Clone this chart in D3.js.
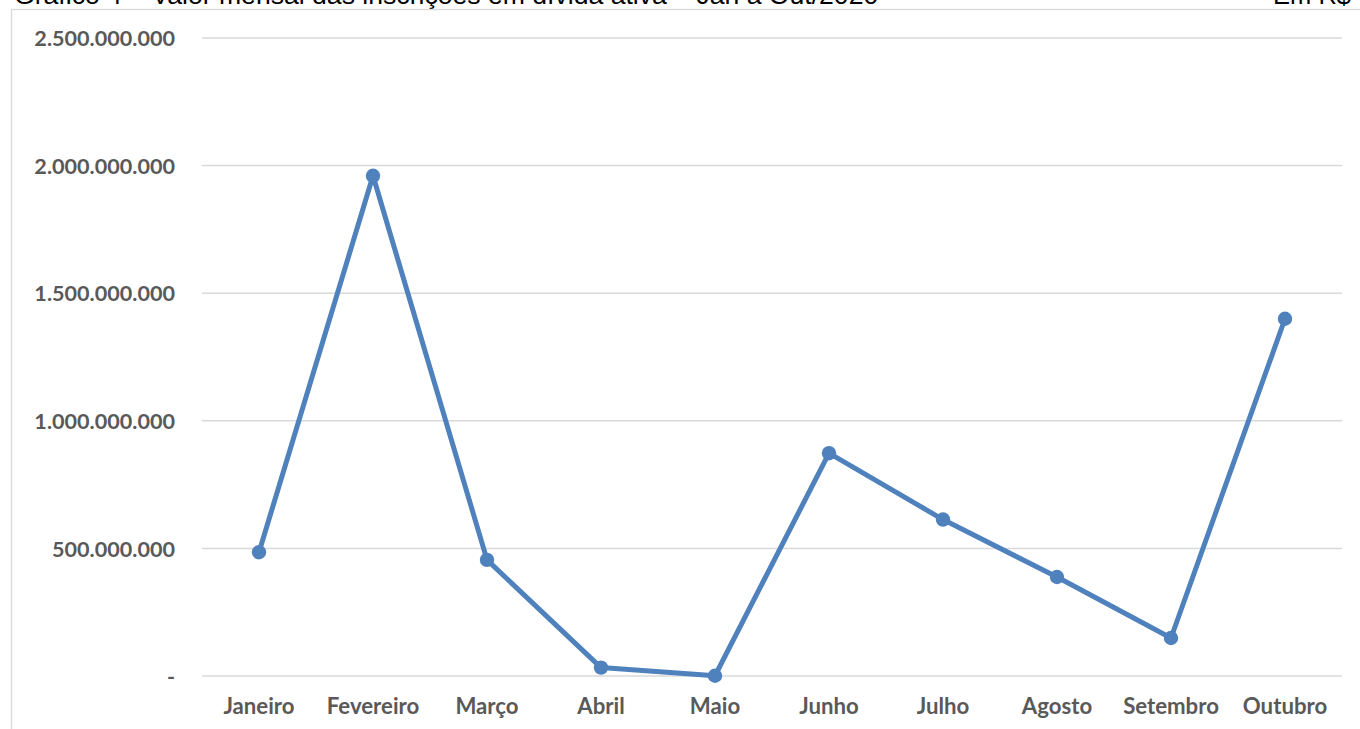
<!DOCTYPE html>
<html>
<head>
<meta charset="utf-8">
<script src="https://cdn.jsdelivr.net/npm/d3@7"></script>
<style>
  html, body { margin: 0; padding: 0; background: #fff; overflow: hidden; }
  svg { display: block; }
</style>
</head>
<body>
<svg id="chart" width="1360" height="729"></svg>
<script>
const months = ["Janeiro", "Fevereiro", "Março", "Abril", "Maio", "Junho", "Julho", "Agosto", "Setembro", "Outubro"];
const values = [485000000, 1960000000, 455000000, 33000000, 1000000, 873000000, 613000000, 388000000, 149000000, 1400000000];
const yTickValues = [0, 500000000, 1000000000, 1500000000, 2000000000, 2500000000];
const yTickLabels = ["-", "500.000.000", "1.000.000.000", "1.500.000.000", "2.000.000.000", "2.500.000.000"];
const titleText = "Gráfico 4 – Valor mensal das inscrições em dívida ativa – Jan a Out/2020";
const unitText = "Em R$";

const svg = d3.select("#chart");
const W = 1360, H = 729;
const plot = { left: 202, right: 1342, top: 38, bottom: 676 };

// title (partially cut at top as in reference)
svg.append("text")
  .attr("x", 14).attr("y", 3.5)
  .attr("font-family", "Liberation Sans, Arial, sans-serif")
  .attr("font-size", 26.6)
  .attr("fill", "#000")
  .text(titleText);
svg.append("text")
  .attr("x", 1351).attr("y", 3.5)
  .attr("text-anchor", "end")
  .attr("font-family", "Liberation Sans, Arial, sans-serif")
  .attr("font-size", 25.5)
  .attr("fill", "#000")
  .text(unitText);

// chart area border
svg.append("rect")
  .attr("x", 11.5).attr("y", 9.5)
  .attr("width", W + 20).attr("height", H + 20)
  .attr("fill", "none")
  .attr("stroke", "#d9d9d9")
  .attr("stroke-width", 1.3);

const x = d3.scaleBand().domain(months).range([plot.left, plot.right]).padding(0);
const y = d3.scaleLinear().domain([0, 2500000000]).range([plot.bottom, plot.top]);

// gridlines
svg.append("g")
  .selectAll("line")
  .data(yTickValues)
  .join("line")
  .attr("x1", plot.left).attr("x2", plot.right)
  .attr("y1", d => y(d)).attr("y2", d => y(d))
  .attr("stroke", "#d9d9d9")
  .attr("stroke-width", 1.5);

// y axis
const yAxis = d3.axisLeft(y)
  .tickValues(yTickValues)
  .tickFormat((d, i) => yTickLabels[i])
  .tickSize(0)
  .tickPadding(0);
const gy = svg.append("g").attr("transform", "translate(175,0)").call(yAxis);
gy.select(".domain").remove();
gy.selectAll("text")
  .attr("font-family", "Lato, sans-serif")
  .attr("font-weight", "bold")
  .attr("font-size", 21.6)
  .attr("fill", "#595959")
  .attr("dy", "0.36em");

// x axis
const xAxis = d3.axisBottom(x).tickSize(0).tickPadding(0);
const gx = svg.append("g").attr("transform", `translate(0,${plot.bottom})`).call(xAxis);
gx.select(".domain").remove();
gx.selectAll("text")
  .attr("font-family", "Lato, sans-serif")
  .attr("font-weight", "bold")
  .attr("font-size", 22.2)
  .attr("fill", "#595959")
  .attr("y", 37.5)
  .attr("dy", 0);

const data = months.map((m, i) => ({ m, v: values[i] }));
const cx = d => x(d.m) + x.bandwidth() / 2;

svg.append("path")
  .datum(data)
  .attr("fill", "none")
  .attr("stroke", "#4f81bd")
  .attr("stroke-width", 5)
  .attr("stroke-linejoin", "round")
  .attr("d", d3.line().x(cx).y(d => y(d.v)));

svg.append("g")
  .selectAll("circle")
  .data(data)
  .join("circle")
  .attr("cx", cx)
  .attr("cy", d => y(d.v))
  .attr("r", 7.2)
  .attr("fill", "#4f81bd");
</script>
</body>
</html>
